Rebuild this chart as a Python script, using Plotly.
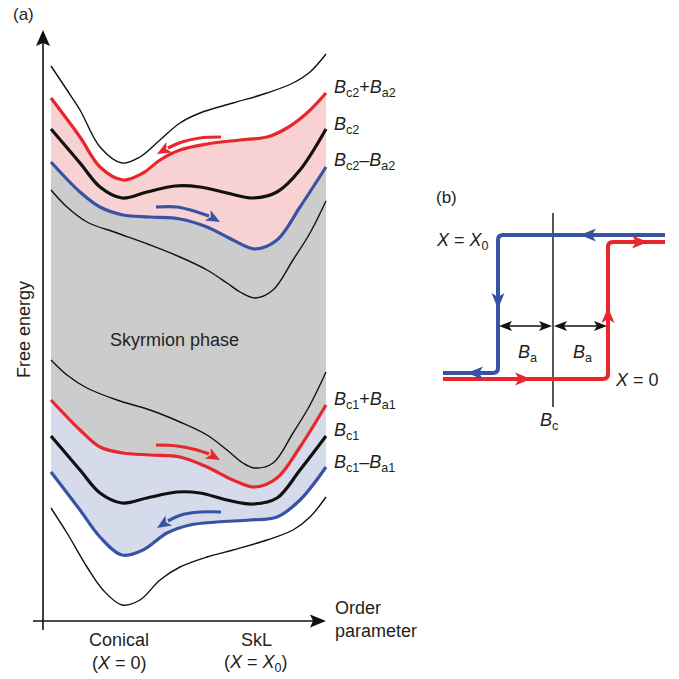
import math
import plotly.graph_objects as go

# ---------------- data: panel (a) free-energy curves (plot units, y downward) ----------------
top_thin_x = [51, 67, 80, 100, 122, 140, 160, 180, 200, 233, 267, 293, 310, 326]
top_thin_y = [66, 90, 110, 147, 163, 157, 140, 123, 113, 103, 93, 83, 72, 54]

bc2_plus_x = [51, 80, 100, 123, 143, 160, 180, 207, 240, 267, 287, 307, 326]
bc2_plus_y = [98, 137, 167, 180, 173, 160, 150, 144, 140, 137, 128, 113, 93]

bc2_x = [51, 80, 100, 122, 147, 175, 200, 227, 253, 277, 300, 326]
bc2_y = [129, 163, 187, 198, 192, 186, 187, 193, 198, 192, 170, 129]

bc2_minus_x = [51, 80, 100, 123, 150, 180, 207, 233, 255, 277, 300, 326]
bc2_minus_y = [162, 192, 207, 215, 217, 219, 227, 240, 249, 240, 207, 167]

mid_upper_x = [51, 67, 87, 117, 150, 180, 207, 227, 240, 255, 273, 293, 310, 326]
mid_upper_y = [190, 207, 222, 233, 245, 257, 270, 283, 292, 298, 290, 260, 233, 201]

mid_lower_x = [51, 67, 87, 117, 150, 180, 207, 227, 243, 255, 273, 293, 310, 326]
mid_lower_y = [360, 375, 388, 400, 410, 422, 435, 450, 463, 468, 463, 433, 405, 372]

bc1_plus_x = [51, 80, 100, 123, 150, 180, 207, 233, 255, 277, 300, 326]
bc1_plus_y = [400, 430, 447, 453, 455, 457, 467, 480, 487, 478, 447, 405]

bc1_x = [51, 80, 100, 122, 147, 177, 200, 227, 253, 277, 300, 326]
bc1_y = [436, 470, 493, 503, 498, 492, 493, 500, 504, 498, 470, 436]

bc1_minus_x = [51, 80, 100, 122, 143, 167, 190, 217, 250, 277, 300, 326]
bc1_minus_y = [472, 510, 537, 555, 550, 533, 525, 522, 520, 517, 500, 467]

bottom_thin_x = [51, 67, 87, 103, 122, 140, 160, 180, 207, 233, 267, 293, 310, 326]
bottom_thin_y = [508, 533, 567, 590, 605, 600, 580, 567, 557, 550, 540, 530, 517, 497]

# curved direction arrows (last point is the arrow tip)
arrow_up_red_x = [221, 200, 182, 168, 157]
arrow_up_red_y = [137, 138, 142, 148, 154]
arrow_up_blue_x = [156, 177, 197, 209, 220]
arrow_up_blue_y = [207, 207, 212, 216, 222]
arrow_lo_red_x = [156, 177, 197, 209, 220]
arrow_lo_red_y = [445, 446, 450, 454, 460]
arrow_lo_blue_x = [221, 200, 181, 168, 157]
arrow_lo_blue_y = [512, 512, 515, 521, 528]

# panel (b) hysteresis loops
loop_blue_x = [665, 498, 498, 443]
loop_blue_y = [235, 235, 373, 373]
loop_red_x = [443, 608, 608, 665]
loop_red_y = [379, 379, 242, 242]
bc_line_x = [553, 553]
bc_line_y = [213, 407]

RED = "#e8262b"
BLUE = "#3953a4"
BLACK = "#111111"
TXT = "#231f20"
FONT = "Liberation Sans, Arial, sans-serif"

fig = go.Figure()


def fill_between(xa, ya, xb, yb, color):
    fig.add_trace(go.Scatter(x=xa, y=ya, mode="lines", line=dict(width=0, shape="spline"),
                             hoverinfo="skip", showlegend=False))
    fig.add_trace(go.Scatter(x=xb, y=yb, mode="lines", line=dict(width=0, shape="spline"),
                             fill="tonexty", fillcolor=color, hoverinfo="skip", showlegend=False))


fill_between(bc2_plus_x, bc2_plus_y, bc2_minus_x, bc2_minus_y, "#f8d2d2")
fill_between(bc2_minus_x, bc2_minus_y, bc1_plus_x, bc1_plus_y, "#cccccc")
fill_between(bc1_plus_x, bc1_plus_y, bc1_minus_x, bc1_minus_y, "#d6dbec")


def curve(x, y, color, width):
    fig.add_trace(go.Scatter(x=x, y=y, mode="lines",
                             line=dict(color=color, width=width, shape="spline"),
                             hoverinfo="skip", showlegend=False))


for (x, y, c, w) in [
    (top_thin_x, top_thin_y, BLACK, 1.4),
    (bc2_plus_x, bc2_plus_y, RED, 3.2),
    (bc2_x, bc2_y, BLACK, 3.2),
    (bc2_minus_x, bc2_minus_y, BLUE, 3.2),
    (mid_upper_x, mid_upper_y, BLACK, 1.4),
    (mid_lower_x, mid_lower_y, BLACK, 1.4),
    (bc1_plus_x, bc1_plus_y, RED, 3.2),
    (bc1_x, bc1_y, BLACK, 3.2),
    (bc1_minus_x, bc1_minus_y, BLUE, 3.2),
    (bottom_thin_x, bottom_thin_y, BLACK, 1.4),
]:
    curve(x, y, c, w)

shapes = []


def head(tx, ty, fx, fy, L, W, n, color):
    dx, dy = tx - fx, ty - fy
    d = math.hypot(dx, dy)
    ux, uy = dx / d, dy / d
    px, py = -uy, ux
    bx, by = tx - L * ux, ty - L * uy
    p1 = (bx + W * px, by + W * py)
    p2 = (tx - (L - n) * ux, ty - (L - n) * uy)
    p3 = (bx - W * px, by - W * py)
    path = (f"M {tx},{ty} L {p1[0]:.2f},{p1[1]:.2f} L {p2[0]:.2f},{p2[1]:.2f} "
            f"L {p3[0]:.2f},{p3[1]:.2f} Z")
    shapes.append(dict(type="path", path=path, xref="x", yref="y",
                       fillcolor=color, line=dict(width=0), layer="above"))


for (ax_, ay_, c) in [
    (arrow_up_red_x, arrow_up_red_y, RED),
    (arrow_up_blue_x, arrow_up_blue_y, BLUE),
    (arrow_lo_red_x, arrow_lo_red_y, RED),
    (arrow_lo_blue_x, arrow_lo_blue_y, BLUE),
]:
    curve(ax_[:-1], ay_[:-1], c, 3.2)
    head(ax_[-1], ay_[-1], ax_[-2], ay_[-2], 14, 6, 3.5, c)

# axes of panel (a)
fig.add_trace(go.Scatter(x=[43, 43], y=[630, 40], mode="lines",
                         line=dict(color=BLACK, width=1.6), hoverinfo="skip", showlegend=False))
head(43, 30, 43, 60, 16, 7, 3, BLACK)
fig.add_trace(go.Scatter(x=[33, 315], y=[621, 621], mode="lines",
                         line=dict(color=BLACK, width=1.6), hoverinfo="skip", showlegend=False))
head(326, 621, 300, 621, 16, 6.5, 3, BLACK)


# panel (b)
def rounded_path(xs, ys, r):
    pts = list(zip(xs, ys))
    s = f"M {pts[0][0]},{pts[0][1]}"
    for i in range(1, len(pts) - 1):
        (x0, y0), (x1, y1), (x2, y2) = pts[i - 1], pts[i], pts[i + 1]
        d1 = math.hypot(x1 - x0, y1 - y0)
        d2 = math.hypot(x2 - x1, y2 - y1)
        a = (x1 - (x1 - x0) / d1 * r, y1 - (y1 - y0) / d1 * r)
        b = (x1 + (x2 - x1) / d2 * r, y1 + (y2 - y1) / d2 * r)
        s += f" L {a[0]},{a[1]} Q {x1},{y1} {b[0]},{b[1]}"
    s += f" L {pts[-1][0]},{pts[-1][1]}"
    return s


fig.add_trace(go.Scatter(x=bc_line_x, y=bc_line_y, mode="lines",
                         line=dict(color=BLACK, width=1.4), hoverinfo="skip", showlegend=False))
shapes.append(dict(type="path", path=rounded_path(loop_red_x, loop_red_y, 5), xref="x", yref="y",
                   line=dict(color=RED, width=4)))
shapes.append(dict(type="path", path=rounded_path(loop_blue_x, loop_blue_y, 5), xref="x", yref="y",
                   line=dict(color=BLUE, width=4)))

# loop arrowheads
head(580, 235, 600, 235, 16, 6.5, 4, BLUE)
head(498, 309, 498, 290, 16, 6.5, 4, BLUE)
head(467, 373, 490, 373, 16, 6.5, 4, BLUE)
head(531, 379, 510, 379, 16, 6.5, 4, RED)
head(608, 307, 608, 330, 16, 6.5, 4, RED)
head(648, 242, 630, 242, 16, 6.5, 4, RED)

# B_a double arrows
fig.add_trace(go.Scatter(x=[503, 548], y=[326, 326], mode="lines",
                         line=dict(color=BLACK, width=1.4), hoverinfo="skip", showlegend=False))
fig.add_trace(go.Scatter(x=[558, 603], y=[326, 326], mode="lines",
                         line=dict(color=BLACK, width=1.4), hoverinfo="skip", showlegend=False))
head(499, 326, 520, 326, 13, 5, 3, BLACK)
head(552, 326, 530, 326, 13, 5, 3, BLACK)
head(554, 326, 580, 326, 13, 5, 3, BLACK)
head(607, 326, 590, 326, 13, 5, 3, BLACK)

annotations = []


def text(x, y, s, size=18, xanchor="center", yanchor="middle", angle=0):
    annotations.append(dict(x=x, y=y, xref="x", yref="y", text=s, showarrow=False,
                            xanchor=xanchor, yanchor=yanchor, textangle=angle,
                            font=dict(family=FONT, size=size, color=TXT)))


text(23, 14, "(a)", 17)
text(446, 197, "(b)", 17)
text(24, 330, "Free energy", 18, angle=-90)
text(174, 340, "Skyrmion phase", 18)
text(333, 608, "Order", 18, xanchor="left")
text(333, 631, "parameter", 18, xanchor="left")
text(119, 640, "Conical", 18)
text(119, 663, "(<i>X</i> = 0)", 18)
text(256, 640, "SkL", 18)
text(256, 663, "(<i>X</i> = <i>X</i><sub>0</sub>)", 18)

text(332, 88, "<i>B</i><sub>c2</sub>+<i>B</i><sub>a2</sub>", 18, xanchor="left")
text(332, 125, "<i>B</i><sub>c2</sub>", 18, xanchor="left")
text(332, 161, "<i>B</i><sub>c2</sub>–<i>B</i><sub>a2</sub>", 18, xanchor="left")
text(332, 400, "<i>B</i><sub>c1</sub>+<i>B</i><sub>a1</sub>", 18, xanchor="left")
text(332, 431, "<i>B</i><sub>c1</sub>", 18, xanchor="left")
text(332, 463, "<i>B</i><sub>c1</sub>–<i>B</i><sub>a1</sub>", 18, xanchor="left")

text(462, 241, "<i>X</i> = <i>X</i><sub>0</sub>", 18)
text(637, 380, "<i>X</i> = 0", 18)
text(527, 353, "<i>B</i><sub>a</sub>", 18)
text(582, 353, "<i>B</i><sub>a</sub>", 18)
text(549, 421, "<i>B</i><sub>c</sub>", 18)

fig.update_layout(
    width=679, height=679,
    margin=dict(l=0, r=0, t=0, b=0),
    paper_bgcolor="white", plot_bgcolor="white",
    xaxis=dict(range=[0, 679], visible=False, fixedrange=True),
    yaxis=dict(range=[679, 0], visible=False, fixedrange=True),
    shapes=shapes, annotations=annotations, showlegend=False,
)

fig.write_html("out.html")
